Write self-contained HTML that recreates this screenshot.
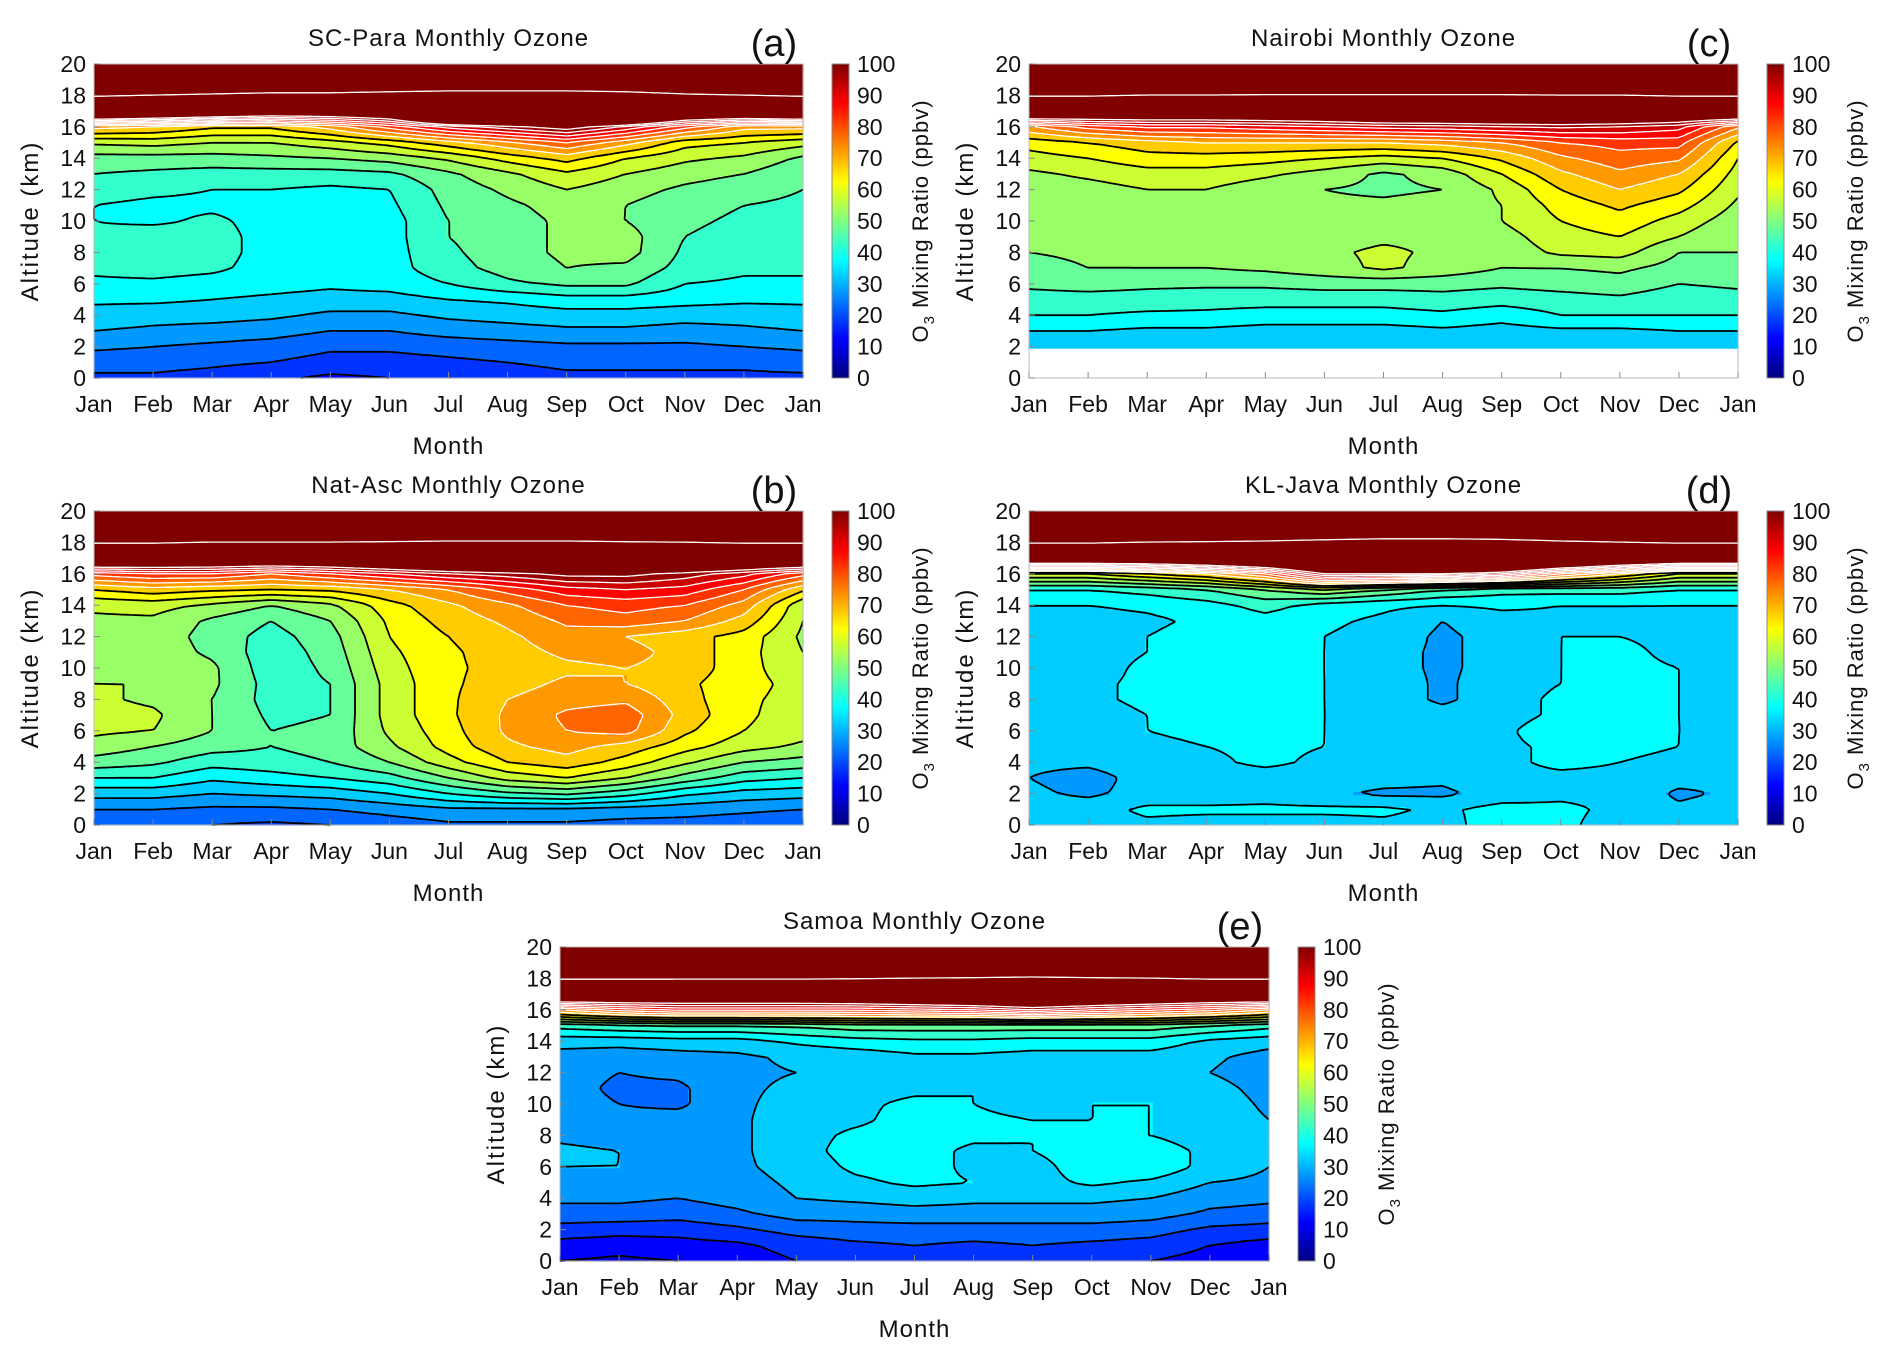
<!DOCTYPE html>
<html><head><meta charset="utf-8">
<style>
body{margin:0;background:#fff;}
svg{display:block;font-family:"Liberation Sans",sans-serif;}
</style></head>
<body>
<svg id="fig" width="1892" height="1356" viewBox="0 0 1892 1356" xmlns="http://www.w3.org/2000/svg">
<defs>
<linearGradient id="jet" x1="0" y1="1" x2="0" y2="0">
<stop offset="0" stop-color="#000080"/><stop offset="0.125" stop-color="#0000ff"/><stop offset="0.375" stop-color="#00ffff"/><stop offset="0.625" stop-color="#ffff00"/><stop offset="0.875" stop-color="#ff0000"/><stop offset="1" stop-color="#800000"/>
</linearGradient>
</defs>
</svg>
<script>
const months = ["Jan","Feb","Mar","Apr","May","Jun","Jul","Aug","Sep","Oct","Nov","Dec","Jan"];
const altTicks = [0,2,4,6,8,10,12,14,16,18,20];
const cbTicks = [0,10,20,30,40,50,60,70,80,90,100];
const contourLevels = [10,15,20,25,30,35,40,45,50,55,60,65,70,75,80,85,90,95,100,200];
const TOP19 = [250,250,250,250,250,250,250,250,250,250,250,250,250];
const TOP20 = [300,300,300,300,300,300,300,300,300,300,300,300,300];
// rows: altitude 0..20 km (bottom to top); columns: Jan..Dec, Jan
const scParaData = [
[19,19,18,16,14,15,17,18,19,19,19,19,19],
[22,22,21,20,18,18,19,20,21,21,21,21,22],
[26,25,24,23,21,21,22,23,24,24,24,25,26],
[30,29,28,27,25,25,27,28,29,29,28,29,30],
[33,32,32,31,29,29,31,32,33,33,32,32,33],
[36,36,35,34,33,33,35,36,38,38,37,36,36],
[39,39,38,37,36,37,40,44,46,46,40,39,39],
[41,42,41,38,37,38,43,47,50,49,43,41,41],
[42,43,42,38,37,38,44,48,51,52,44,42,42],
[41,43,42,38,37,38,45,48,51,52,45,43,42],
[40,39,41,38,36,38,45,48,51,50,46,44,43],
[40,39,39,38,37,39,46,49,52,50,47,45,44],
[42,41,40,40,39,40,47,51,55,52,49,47,45],
[45,44,43,43,43,44,49,54,59,55,52,50,46],
[48,48,48,49,50,52,56,62,67,60,56,54,49],
[56,57,55,55,58,62,68,74,80,72,62,60,57],
[72,70,66,66,72,82,92,98,104,94,82,72,72],
[130,125,120,115,115,118,150,160,175,150,125,125,130],
[205,200,195,190,190,185,180,180,180,185,195,200,205],
TOP19,TOP20];
const nairobiData = [
[null,null,null,null,null,null,null,null,null,null,null,null,null],
[null,null,null,null,null,null,null,null,null,null,null,null,null],
[31,31,31,31,31,31,31,31,31,31,31,31,31],
[35,35,34,34,33,33,33,34,33,34,34,35,35],
[40,40,39,39,38,38,38,39,37,40,40,40,40],
[43,43,43,42,42,42,42,43,42,43,44,42,43],
[46,47,46,46,46,47,47,47,46,47,48,45,46],
[48,50,50,50,51,53,56,53,50,50,51,48,48],
[50,51,52,52,53,54,56,54,52,56,57,50,50],
[50,51,52,52,52,53,54,54,53,58,60,55,50],
[50,51,52,53,51,52,53,54,55,60,63,58,52],
[50,52,53,54,51,51,51,52,55,62,66,62,54],
[52,53,55,55,52,50,49,50,56,65,70,66,56],
[54,56,58,58,56,53,49,52,60,69,74,70,58],
[58,60,63,63,62,60,58,60,66,74,78,76,60],
[62,65,68,70,70,70,70,72,75,80,82,82,64],
[74,82,86,86,88,90,92,93,95,96,95,92,76],
[125,120,118,118,118,120,125,125,125,125,122,120,125],
[205,205,200,200,198,198,198,198,198,200,200,205,205],
TOP19,TOP20];
const natAscData = [
[21,21,20,19,20,22,24,24,24,23,23,22,21],
[25,25,24,24,25,27,29,29,29,28,27,26,25],
[32,32,30,31,32,35,40,44,46,42,36,33,32],
[40,40,36,38,40,43,50,57,60,55,48,42,40],
[48,46,42,43,45,50,58,65,68,63,56,50,48],
[53,50,47,45,47,54,62,69,72,68,62,57,54],
[56,55,50,45,46,56,63,71,75,77,66,60,57],
[57,56,50,44,45,57,64,71,76,78,68,61,57],
[56,54,50,43,45,57,64,70,73,74,67,61,58],
[55,55,51,43,45,57,64,68,71,70,66,62,58],
[54,54,51,42,46,58,64,67,69,70,68,62,56],
[53,53,49,42,47,59,64,68,71,72,68,62,55],
[53,53,48,43,48,60,65,69,73,70,67,63,54],
[54,54,49,45,50,61,67,71,76,78,75,68,55],
[56,57,54,50,54,63,69,74,80,82,80,73,56],
[65,68,66,65,66,70,75,82,88,90,88,80,66],
[82,85,85,80,85,90,95,98,102,102,98,92,82],
[125,122,120,120,120,125,130,135,140,138,130,125,125],
[205,205,200,200,200,198,195,195,195,198,200,205,205],
TOP19,TOP20];
const klJavaData = [
[34,33,34,33,33,33,34,33,38,36,33,33,34],
[33,33,36,36,36,36,36,34,37,36,34,31,33],
[31,29,32,32,33,31,29,29,32,34,34,29,31],
[30,28,32,33,33,33,32,31,34,34,34,32,31],
[31,31,33,34,36,34,34,34,34,36,35,34,33],
[32,33,34,35,36,35,33,34,34,36,36,35,33],
[34,33,35,36,37,35,33,31,34,38,37,35,34],
[34,33,35,37,38,35,33,32,33,36,36,35,34],
[34,34,36,37,37,35,33,29,33,36,36,35,34],
[34,34,36,37,37,35,33,29,33,35,36,35,34],
[34,33,36,37,37,35,32,29,32,35,36,35,34],
[33,33,35,37,37,35,32,29,32,35,36,34,33],
[33,33,35,37,38,35,33,29,32,35,35,34,33],
[33,33,34,36,38,36,34,30,33,34,34,33,33],
[35,35,36,38,42,38,36,35,36,35,35,35,35],
[40,40,42,45,50,55,50,45,42,42,42,40,40],
[60,60,65,70,80,100,100,100,95,80,70,60,60],
[120,120,120,125,130,140,150,150,145,135,125,120,120],
[205,205,200,198,195,190,185,185,188,195,200,205,205],
TOP19,TOP20];
const samoaData = [
[10,9,10,12,15,17,19,17,18,17,15,13,10],
[13,12,13,14,17,19,20,19,20,19,18,15,13],
[18,17,17,19,22,23,23,23,23,23,22,19,18],
[23,23,22,24,27,27,28,28,28,28,27,24,23],
[26,26,25,27,30,31,32,31,31,31,30,27,26],
[29,28,27,28,31,34,36,35,33,36,34,30,29],
[30,30,29,29,32,36,37,34,33,38,39,33,30],
[31,30,29,29,33,37,37,34,35,38,37,34,31],
[29,28,28,29,33,36,37,36,35,35,35,33,31],
[28,26,27,29,33,34,37,36,35,35,35,33,30],
[27,25,24,29,32,34,36,35,33,35,35,33,29],
[27,24,24,29,31,33,34,35,32,34,34,32,28],
[27,25,26,29,30,31,33,34,32,33,33,30,27],
[28,27,28,29,31,32,34,34,33,33,33,31,28],
[32,32,33,33,36,38,39,39,38,38,38,34,32],
[42,44,45,45,46,48,48,48,48,48,48,45,42],
[75,82,86,86,86,86,88,90,95,90,86,82,75],
[125,122,120,120,120,122,125,128,130,128,125,122,125],
[205,205,205,205,205,203,200,198,195,198,200,205,205],
TOP19,TOP20];

const panels = [
 {id:"sc-para", title:"SC-Para Monthly Ozone", tag:"(a)", px:94, py:64, data:scParaData},
 {id:"nairobi", title:"Nairobi Monthly Ozone", tag:"(c)", px:1029, py:64, data:nairobiData},
 {id:"nat-asc", title:"Nat-Asc Monthly Ozone", tag:"(b)", px:94, py:511, data:natAscData},
 {id:"kl-java", title:"KL-Java Monthly Ozone", tag:"(d)", px:1029, py:511, data:klJavaData},
 {id:"samoa", title:"Samoa Monthly Ozone", tag:"(e)", px:560, py:947, data:samoaData}
];
const W=709, H=314, NS="http://www.w3.org/2000/svg";
const svg=document.getElementById('fig');
function mk(tag,attrs,parent){const e=document.createElementNS(NS,tag);for(const k in attrs)e.setAttribute(k,attrs[k]);parent.appendChild(e);return e;}
function jet(v){let t=Math.max(0,Math.min(1,v/100));const c=x=>Math.round(255*Math.max(0,Math.min(1,1.5-Math.abs(4*t-x))));return `rgb(${c(3)},${c(2)},${c(1)})`;}
function sample(data,m,z){
  const i=Math.min(11.9999,Math.max(0,m)), j=Math.min(19.9999,Math.max(0,z));
  const i0=Math.floor(i), j0=Math.floor(j), fi=i-i0, fj=j-j0;
  const a=data[j0][i0],b=data[j0][i0+1],c=data[j0+1][i0],d=data[j0+1][i0+1];
  if(a==null||b==null||c==null||d==null) return null;
  return (a*(1-fi)+b*fi)*(1-fj)+(c*(1-fi)+d*fi)*fj;
}
const xs=m=>m/12*W, ys=z=>H-z/20*H;

panels.forEach(p=>{
  const g=mk('g',{transform:`translate(${p.px},${p.py})`},svg);
  
  
  const plot=mk('g',{},g);
  
  
  const nx=177, ny=105, cw=W/nx, ch=H/ny;
  for(let r=0;r<ny;r++){
    const z=20-(r+0.5)/ny*20;
    let start=0;
    const cols=[];
    for(let c=0;c<nx;c++){
      const v=sample(p.data,(c+0.5)/nx*12,z);
      cols.push(v==null?null:Math.min(100,Math.floor(v/5)*5+2.5));
    }
    for(let c=0;c<=nx;c++){
      if(c==nx||cols[c]!==cols[start]){
        if(cols[start]!=null){
          const rc=mk('rect',{x:(start*cw).toFixed(2),y:(r*ch).toFixed(2),width:((c-start)*cw+0.6).toFixed(2),height:(ch+0.6).toFixed(2),fill:jet(cols[start])},plot);
          
          
        }
        start=c;
      }
    }
  }
  const gx=nx, gy=ny;
  const vals=[];
  for(let r=0;r<=gy;r++){const row=[];for(let c=0;c<=gx;c++)row.push(sample(p.data,c/gx*12,20-r/gy*20));vals.push(row);}
  contourLevels.forEach(L=>{
    let d="";
    for(let r=0;r<gy;r++)for(let c=0;c<gx;c++){
      const a=vals[r][c],b=vals[r][c+1],cc=vals[r+1][c+1],dd=vals[r+1][c];
      if(a==null||b==null||cc==null||dd==null)continue;
      const pts=[];
      const x0=c*cw,y0=r*ch;
      if((a<L)!=(b<L))pts.push([x0+(L-a)/(b-a)*cw,y0]);
      if((b<L)!=(cc<L))pts.push([x0+cw,y0+(L-b)/(cc-b)*ch]);
      if((dd<L)!=(cc<L))pts.push([x0+(L-dd)/(cc-dd)*cw,y0+ch]);
      if((a<L)!=(dd<L))pts.push([x0,y0+(L-a)/(dd-a)*ch]);
      for(let k=0;k+1<pts.length;k+=2)d+=`M${pts[k][0].toFixed(1)} ${pts[k][1].toFixed(1)}L${pts[k+1][0].toFixed(1)} ${pts[k+1][1].toFixed(1)}`;
    }
    if(d){
      const pa=mk('path',{d:d,fill:'none',stroke:L>=70?'#fff':'#000','stroke-width':L>=70?1.3:1.8},g);
      
      
    }
  });
  mk('rect',{x:0,y:0,width:W,height:H,fill:'none',stroke:'#bbb','stroke-width':1},g);
  months.forEach((m,i)=>{
    mk('line',{x1:xs(i),x2:xs(i),y1:H,y2:H-6,stroke:'#888','stroke-width':1},g);
    const t=mk('text',{x:xs(i),y:H+34,'font-size':23,'text-anchor':'middle',fill:'#111'},g);
    t.textContent=m;
    
    
  });
  altTicks.forEach(a=>{
    mk('line',{x1:0,x2:6,y1:ys(a),y2:ys(a),stroke:'#888','stroke-width':1},g);
    const t=mk('text',{x:-8,y:ys(a)+8,'font-size':23,'text-anchor':'end',fill:'#111'},g);
    t.textContent=a;
    
    
  });
  const xt=mk('text',{x:W/2,y:H+76,'font-size':24,'text-anchor':'middle','letter-spacing':'1',fill:'#111'},g);
  xt.textContent='Month';
  
  
  const yt=mk('text',{x:0,y:0,'font-size':24,'text-anchor':'middle','letter-spacing':'2',fill:'#111',transform:`translate(-56,${H/2}) rotate(-90)`},g);
  yt.textContent='Altitude (km)';
  
  
  const ti=mk('text',{x:W/2,y:-18,'font-size':24,'text-anchor':'middle','letter-spacing':'1',fill:'#111'},g);
  ti.textContent=p.title;
  
  
  const tg=mk('text',{x:680,y:-8,'font-size':38,'text-anchor':'middle',fill:'#111'},g);
  tg.textContent=p.tag;
  
  
  const cb=mk('rect',{x:738,y:0,width:17,height:H,fill:'url(#jet)',stroke:'#888','stroke-width':1},g);
  
  
  cbTicks.forEach(v=>{
    const y=H-v/100*H;
    const t=mk('text',{x:763,y:y+8,'font-size':23,fill:'#111'},g);
    t.textContent=v;
    
    
  });
  const cl=mk('text',{x:0,y:0,'font-size':22,'text-anchor':'middle','letter-spacing':'1',fill:'#111',transform:`translate(834,${H/2}) rotate(-90)`},g);
  cl.innerHTML='O<tspan font-size="15" dy="6">3</tspan><tspan dy="-6"> Mixing Ratio (ppbv)</tspan>';
  
  
});
</script>
</body></html>
